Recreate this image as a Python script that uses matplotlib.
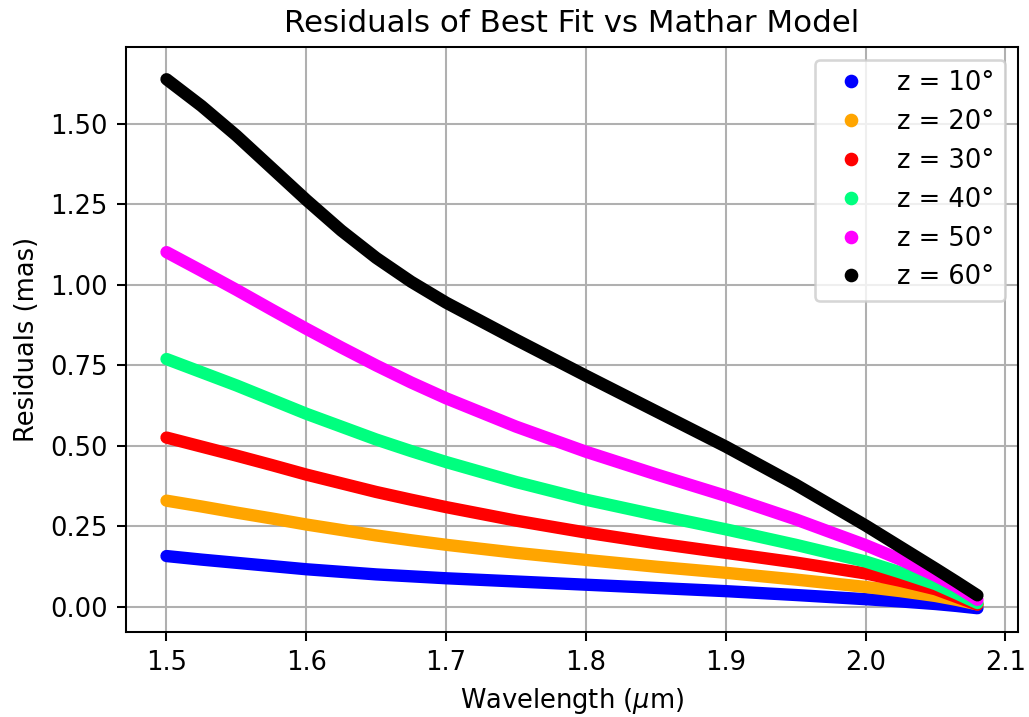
import numpy as np
import matplotlib
matplotlib.use("Agg")
import matplotlib.pyplot as plt
from matplotlib.lines import Line2D

# wavelength samples (um)
wavelength = [1.500, 1.525, 1.550, 1.575, 1.600, 1.625, 1.650, 1.675, 1.700,
              1.750, 1.800, 1.850, 1.900, 1.950, 2.000, 2.025, 2.050, 2.065, 2.080]

# residuals (mas) per zenith angle
res_z10 = [0.158, 0.147, 0.137, 0.127, 0.117, 0.109, 0.101, 0.095, 0.089,
           0.079, 0.069, 0.059, 0.049, 0.037, 0.024, 0.017, 0.009, 0.003, -0.004]
res_z20 = [0.330, 0.312, 0.293, 0.275, 0.256, 0.239, 0.222, 0.207, 0.193,
           0.168, 0.146, 0.125, 0.106, 0.085, 0.062, 0.049, 0.034, 0.022, 0.008]
res_z30 = [0.526, 0.498, 0.470, 0.441, 0.411, 0.384, 0.357, 0.333, 0.310,
           0.268, 0.231, 0.198, 0.168, 0.138, 0.104, 0.081, 0.055, 0.031, 0.007]
res_z40 = [0.770, 0.729, 0.688, 0.644, 0.600, 0.560, 0.520, 0.484, 0.450,
           0.388, 0.333, 0.286, 0.241, 0.193, 0.141, 0.107, 0.071, 0.042, 0.012]
res_z50 = [1.102, 1.044, 0.985, 0.924, 0.864, 0.806, 0.750, 0.697, 0.648,
           0.560, 0.482, 0.412, 0.345, 0.272, 0.192, 0.147, 0.097, 0.063, 0.022]
res_z60 = [1.639, 1.556, 1.464, 1.364, 1.264, 1.169, 1.084, 1.010, 0.945,
           0.830, 0.718, 0.608, 0.498, 0.380, 0.253, 0.186, 0.119, 0.078, 0.036]

series = [res_z10, res_z20, res_z30, res_z40, res_z50, res_z60]
labels = ['z = 10°', 'z = 20°', 'z = 30°', 'z = 40°', 'z = 50°', 'z = 60°']
colors = ['#0000ff', '#ffa500', '#ff0000', '#00ff7f', '#ff00ff', '#000000']

dpi = 185
fig = plt.figure(figsize=(1029/dpi, 717/dpi), dpi=dpi)
ax = fig.add_axes([0.1224, 0.1185, 0.8669, 0.8159])

for vals, lab, col in zip(series, labels, colors):
    ax.plot(wavelength, vals, color=col, lw=4.8, solid_capstyle='round',
            solid_joinstyle='round', label=lab, zorder=3)

ax.set_ylim(-0.078, 1.739)
ax.grid(True, color='#b0b0b0', lw=0.8)
ax.set_axisbelow(True)
ax.set_xlabel(r'Wavelength ($\mu$m)')
ax.set_ylabel('Residuals (mas)')
ax.set_title('Residuals of Best Fit vs Mathar Model')

handles = [Line2D([], [], ls='', marker='o', ms=4.3, color=c) for c in colors]
ax.legend(handles, labels, loc='upper right')

fig.savefig('out.png', dpi=dpi)
